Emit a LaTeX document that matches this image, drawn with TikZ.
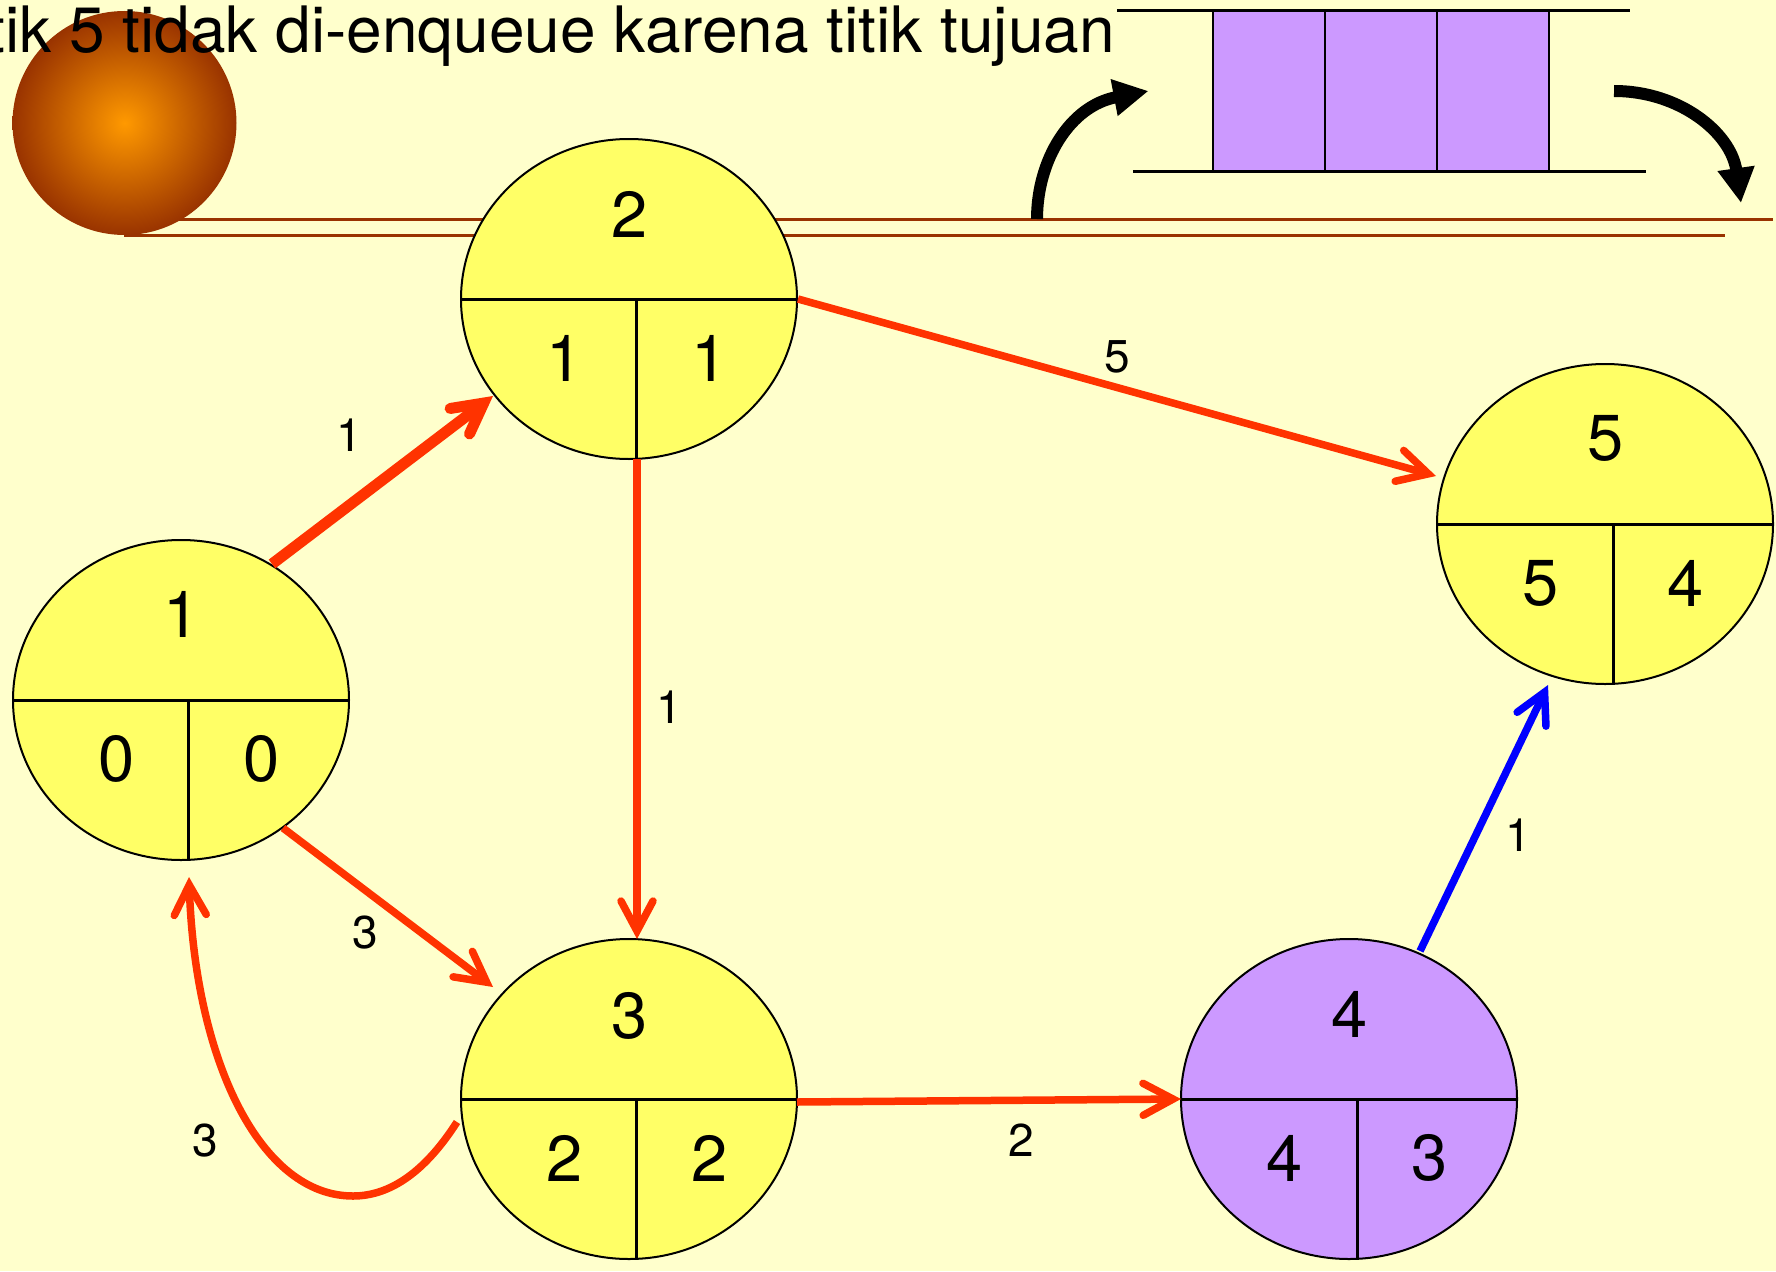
\documentclass[tikz,border=0pt]{standalone}
\usepackage{fontspec}
\setmainfont{TeX Gyre Heros}
\usetikzlibrary{shapes.geometric,arrows.meta}
\definecolor{bgc}{HTML}{FFFFCC}
\definecolor{yel}{HTML}{FFFF66}
\definecolor{vio}{HTML}{CC99FF}
\definecolor{redc}{HTML}{FF3300}
\definecolor{brn}{HTML}{993300}
\definecolor{sunin}{HTML}{FF9900}
\pgfdeclareradialshading{sunsh}{\pgfpoint{0bp}{0bp}}{color(0bp)=(sunin); color(25bp)=(brn); color(50bp)=(brn)}
\tikzset{
  x=1pt,y=-1pt,
  vnode/.style={ellipse,draw=black,line width=2pt,minimum width=336pt,minimum height=320pt,inner sep=0pt},
  cut/.style={draw=black,line width=3pt},
  num/.style={font=\fontsize{65}{65}\selectfont,inner sep=0pt},
  elabel/.style={font=\fontsize{46}{46}\selectfont,inner sep=0pt},
  rail/.style={draw=brn,line width=3pt},
  qline/.style={draw=black,line width=3pt},
  qcell/.style={rectangle,draw=black,fill=vio,line width=2pt,minimum width=112pt,minimum height=160pt,inner sep=0pt},
  redarrow/.style={draw=redc,line width=7.5pt,-{Straight Barb[length=30pt,width=32pt,line cap=round,line join=miter]}},
  blk/.style={draw=black,line width=12pt,-{Triangle[length=35pt,width=35pt]}},
}
% name, position, fill, top, left, right, top dy, divider dx
\newcommand{\vertex}[8]{%
  \node[vnode,fill=#3] (#1) at #2 {};
  \draw[cut] (#1.west) -- (#1.east);
  \draw[cut] ([xshift=#8pt]#1.center) -- ([xshift=#8pt]#1.south);
  \node[num] (#1a) at ([shift={(1,#7)}]#1.center) {#4};
  \node[num] (#1b) at ([shift={(-64,59)}]#1.center) {#5};
  \node[num] (#1c) at ([shift={(80.5,59)}]#1.center) {#6};
}
\begin{document}
\begin{tikzpicture}
\useasboundingbox (0,0) rectangle (1776,1271);
\fill[bgc] (0,0) rectangle (1776,1271);
% sun and rails
\coordinate (r1a) at (124,219.5); \coordinate (r1b) at (1773,219.5);
\coordinate (r2a) at (124,235);   \coordinate (r2b) at (1725,235);
\draw[rail] (r1a) -- (r1b);
\draw[rail] (r2a) -- (r2b);
\node[circle,shading=sunsh,minimum size=224pt,inner sep=0pt] (sun) at (124.5,123) {};
% title
\node[anchor=base east,font=\fontsize{64}{64}\selectfont,inner sep=0pt] (title) at (1115,53) {tik 5 tidak di-enqueue karena titik tujuan};
% queue
\node[qcell] (q1) at (1269,91) {};
\node[qcell] (q2) at (1381,91) {};
\node[qcell] (q3) at (1493,91) {};
\coordinate (qt1) at (1117,11); \coordinate (qt2) at (1630,11);
\coordinate (qb1) at (1133,171); \coordinate (qb2) at (1646,171);
\draw[qline] (qt1) -- (qt2);
\draw[qline] (qb1) -- (qb2);
% black arrows
\coordinate (ba1) at (1037,219); \coordinate (ba2) at (1148.5,91);
\coordinate (bb1) at (1614,91);  \coordinate (bb2) at (1741,203);
\draw[blk] (ba1) .. controls (1037,160) and (1070,106) .. (ba2);
\draw[blk] (bb1) .. controls (1680,91) and (1731,133) .. (bb2);
% vertices
\vertex{n1}{(181,700)}{yel}{1}{0}{0}{-86}{7.5}
\vertex{n2}{(629,299)}{yel}{2}{1}{1}{-84.5}{7.5}
\vertex{n3}{(629,1099)}{yel}{3}{2}{2}{-83}{7.5}
\vertex{n4}{(1349,1099)}{vio}{4}{4}{3}{-85}{8.5}
\vertex{n5}{(1605,524)}{yel}{5}{5}{4}{-86}{8.5}
% edges
\draw[redarrow,line width=11pt] ([shift={(91,-136)}]n1.center) -- ([shift={(-136,97)}]n2.center);
\draw[redarrow] ([shift={(102,128)}]n1.center) -- ([shift={(-136,-112)}]n3.center);
\draw[redarrow] ([shift={(8,160)}]n2.center) -- ([shift={(8,-160)}]n3.center);
\draw[redarrow] ([shift={(169,0)}]n2.center) -- ([shift={(-169,-48)}]n5.center);
\draw[redarrow] ([shift={(168,3)}]n3.center) -- ([shift={(-168,0)}]n4.center);
\draw[redarrow,draw=blue] ([shift={(71,-148)}]n4.center) -- ([shift={(-57,161)}]n5.center);
\draw[redarrow] ([shift={(-172,23)}]n3.center) .. controls (425,1172) and (390,1196) .. (353,1196) .. controls (260,1196) and (195,1060) .. ([shift={(8,177)}]n1.center);
% edge labels
\node[elabel] (l12) at (349,435.5) {1};
\node[elabel] (l25) at (1117,356.5) {5};
\node[elabel] (l23) at (669,707.5) {1};
\node[elabel] (l45) at (1518,835.5) {1};
\node[elabel] (l13) at (365,932.5) {3};
\node[elabel] (l34) at (1021,1140.5) {2};
\node[elabel] (l31) at (205,1141) {3};
\end{tikzpicture}
\end{document}
